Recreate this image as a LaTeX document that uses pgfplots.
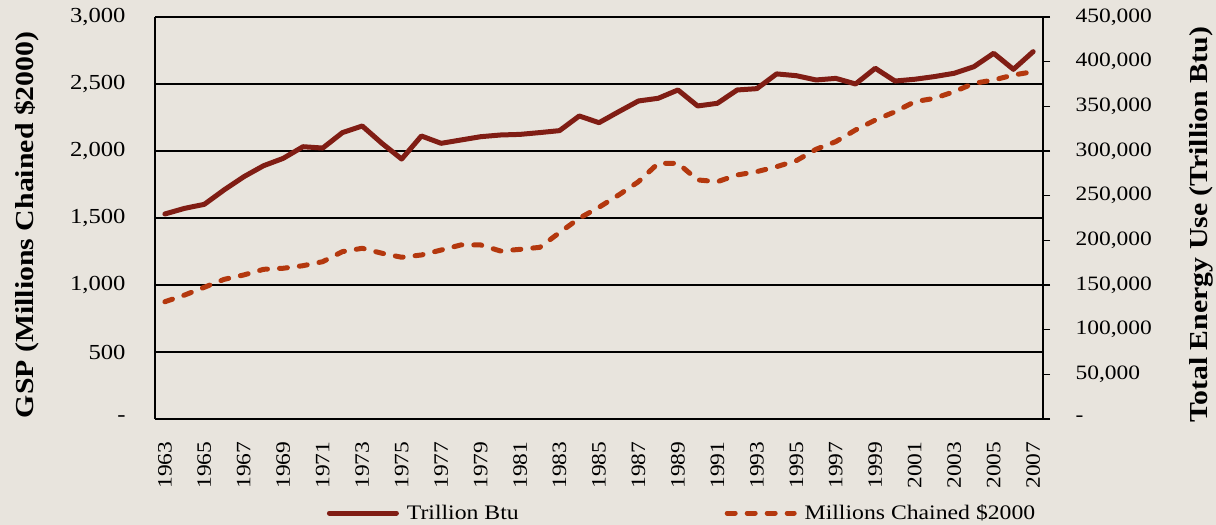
\documentclass[border=0pt]{standalone}
\usepackage{pgfplots}
\pgfplotsset{compat=1.18}
\usepackage{pgfplotstable}
\usepackage{fontspec}
\setmainfont{Liberation Serif}[FakeStretch=1.15]
\definecolor{bg}{HTML}{E8E4DD}
\definecolor{solidc}{HTML}{801D14}
\definecolor{dashc}{HTML}{B4380E}

\pgfplotstableread{
i energy
0 229500
1 235800
2 240300
3 256400
4 271200
5 283500
6 291800
7 304800
8 303300
9 320600
10 328000
11 308600
12 291000
13 316800
14 308600
15 312300
16 316000
17 317900
18 318600
19 320600
20 322800
21 339200
22 331700
23 344000
24 356000
25 359000
26 368300
27 350400
28 353400
29 368300
30 369800
31 386300
32 384300
33 379500
34 381300
35 375000
36 392600
37 378300
38 380300
39 383300
40 387000
41 394400
42 409400
43 391400
44 411200
}\energytable

\pgfplotstableread{
i gsp
0 875
1 925
2 983
3 1042
4 1075
5 1117
6 1125
7 1144
8 1174
9 1249
10 1274
11 1237
12 1207
13 1224
14 1261
15 1299
16 1299
17 1254
18 1266
19 1281
20 1391
21 1498
22 1580
23 1672
24 1771
25 1908
26 1908
27 1784
28 1771
29 1821
30 1846
31 1883
32 1928
33 2013
34 2070
35 2157
36 2231
37 2293
38 2368
39 2393
40 2443
41 2505
42 2530
43 2567
44 2592
}\gsptable

\begin{document}
\begin{tikzpicture}
\fill[bg] (0,0) rectangle (1216bp,525bp);
\useasboundingbox (0,0) rectangle (1216bp,525bp);
\begin{axis}[
  at={(155bp,106bp)}, anchor=south west,
  scale only axis, width=888bp, height=402bp,
  xmin=-0.5, xmax=44.5, ymin=0, ymax=3000,
  axis x line*=bottom, axis y line*=left,
  axis line style={black, line width=1.4bp, -},
  ymajorgrids, grid style={black, line width=1.1bp},
  ytick={0,500,...,3000},
  yticklabels={{-\hspace{16bp}},500,{1,000},{1,500},{2,000},{2,500},{3,000}},
  xtick={0,2,...,44},
  xticklabels={1963,1965,1967,1969,1971,1973,1975,1977,1979,1981,1983,1985,1987,1989,1991,1993,1995,1997,1999,2001,2003,2005,2007},
  major tick length=0pt,
  tick label style={font=\fontsize{20.5}{24}\selectfont},
  yticklabel style={font=\fontsize{21.5}{24}\selectfont, anchor=east, xshift=-26bp},
  xticklabel style={rotate=90, anchor=east},
  xticklabel shift=19bp,
  ylabel={\bfseries GSP (Millions Chained \$2000)},
  ylabel style={font=\fontsize{26}{30}\selectfont, at={(axis description cs:-0.144,0.483)}, anchor=center},
  clip=false,
]
\addplot[dashc, line width=5bp, line cap=round, line join=round, dash pattern=on 8bp off 12bp] table[x=i, y=gsp] {\gsptable};
\end{axis}
\begin{axis}[
  at={(155bp,106bp)}, anchor=south west,
  scale only axis, width=888bp, height=402bp,
  xmin=-0.5, xmax=44.5, ymin=0, ymax=450000,
  axis x line=none, axis y line*=right,
  axis line style={black, line width=1.4bp, -},
  ytick={0,50000,...,450000},
  yticklabels={-,{50,000},{100,000},{150,000},{200,000},{250,000},{300,000},{350,000},{400,000},{450,000}},
  scaled y ticks=false,
  tick align=outside, major tick length=7bp,
  ytick style={black, line width=1.4bp},
  tick label style={font=\fontsize{20.5}{24}\selectfont},
  yticklabel style={anchor=west, xshift=22bp},
  ylabel={\bfseries Total Energy Use (Trillion Btu)},
  ylabel style={font=\fontsize{26}{30}\selectfont, at={(axis description cs:1.178,0.483)}, anchor=center},
  legend columns=2,
  legend style={at={(axis description cs:0.19,-0.234)}, anchor=west, draw=none, fill=none,
    font=\fontsize{20.7}{24}\selectfont,
    /tikz/every even column/.append style={column sep=204bp}},
  legend image code/.code={\draw[#1] (0bp,0bp) -- (67bp,0bp); \path (73bp,0bp);},
  clip=false,
]
\addplot[solidc, line width=5bp, line cap=round, line join=round] table[x=i, y=energy] {\energytable};
\addlegendentry{Trillion Btu}
\addlegendimage{dashc, line width=5bp, line cap=round, dash pattern=on 8bp off 12bp}
\addlegendentry{Millions Chained \$2000}
\end{axis}
\end{tikzpicture}
\end{document}
